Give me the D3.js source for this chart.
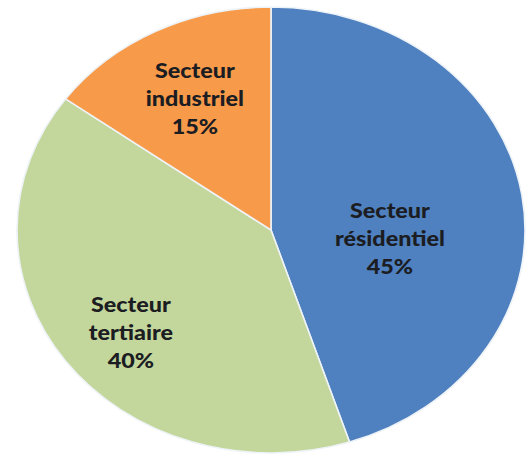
<!DOCTYPE html>
<html>
<head>
<meta charset="utf-8">
<script src="https://cdn.jsdelivr.net/npm/d3@7"></script>
<style>
  html, body { margin: 0; padding: 0; background: #ffffff; }
  svg { display: block; }
</style>
</head>
<body>
<svg id="chart" width="526" height="461"></svg>
<script>
// Energy consumption split by sector
const sectors = ["Secteur résidentiel", "Secteur tertiaire", "Secteur industriel"];
const shares = [45, 40, 15];
const labelLines = [
  ["Secteur", "résidentiel", "45%"],
  ["Secteur", "tertiaire", "40%"],
  ["Secteur", "industriel", "15%"]
];
const colors = ["#4f80bf", "#c3d69b", "#f79a4a"];

const W = 526, H = 461;
const cx = 271, cy = 230;
const R = 223;            // vertical radius
const stretchX = 254 / R; // the pie is drawn slightly wider than tall

// label placement: radius fraction and angular nudge (degrees) per slice
const labelPos = [
  { k: 0.47, nudge: 14 },
  { k: 0.72, nudge: -4 },
  { k: 0.66, nudge: 0 }
];

const svg = d3.select("#chart");

const pie = d3.pie().sort(null).value(d => d)(shares);
const arc = d3.arc().innerRadius(0).outerRadius(R);

const g = svg.append("g")
  .attr("transform", `translate(${cx},${cy}) scale(${stretchX},1)`);

g.selectAll("path.slice")
  .data(pie)
  .join("path")
  .attr("class", "slice")
  .attr("d", arc)
  .attr("fill", (d, i) => colors[i])
  .attr("stroke", "#eef3f8")
  .attr("stroke-width", 1.6)
  .attr("vector-effect", "non-scaling-stroke");

const lineH = 28;
const labels = g.selectAll("text.lbl")
  .data(pie)
  .join("text")
  .attr("class", "lbl")
  .attr("text-anchor", "middle")
  .attr("font-family", "Lato, 'Open Sans', sans-serif")
  .attr("font-weight", 900)
  .attr("font-size", 20.5)
  .attr("fill", "#1b1d22")
  .attr("transform", (d, i) => {
    const p = labelPos[i];
    const a = (d.startAngle + d.endAngle) / 2 + p.nudge * Math.PI / 180;
    const x = Math.sin(a) * R * p.k;
    const y = -Math.cos(a) * R * p.k;
    return `translate(${x},${y})`;
  });

labels.selectAll("tspan")
  .data((d, i) => labelLines[i].map((t, j) => ({ t, j })))
  .join("tspan")
  .attr("x", 0)
  .attr("y", d => (d.j - 1) * lineH)
  .attr("dy", "0.35em")
  .text(d => d.t);
</script>
</body>
</html>
